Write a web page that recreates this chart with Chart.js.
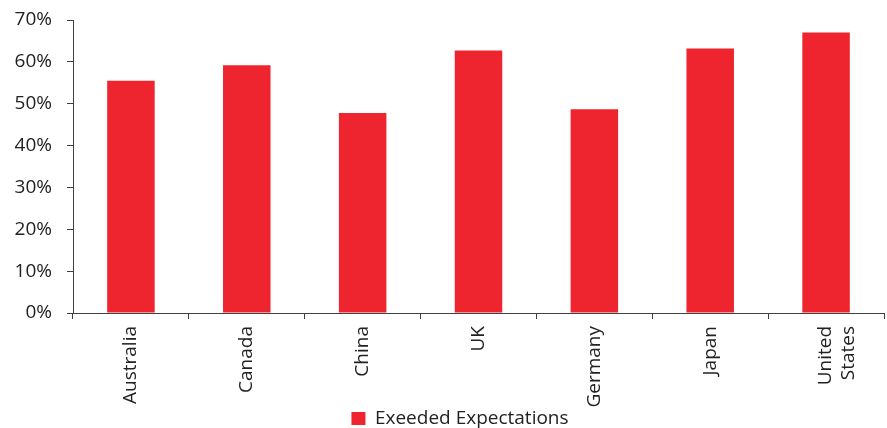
<!DOCTYPE html>
<html>
<head>
<meta charset="utf-8">
<script src="https://cdn.jsdelivr.net/npm/chart.js@4"></script>
<style>
  html, body { margin: 0; padding: 0; background: #fff; }
  #wrap { width: 887px; height: 428px; position: relative; }
</style>
</head>
<body>
<div id="wrap"><canvas id="c"></canvas></div>
<script>
const categories = ['Australia', 'Canada', 'China', 'UK', 'Germany', 'Japan', ['United', 'States']];
const exceededExpectations = [55.5, 59.2, 47.8, 62.7, 48.7, 63.2, 67.0];
const seriesName = 'Exeeded Expectations';
const yTickMax = 70;
const yTickStep = 10;

const FONT = "'Open Sans', sans-serif";
const TEXT = '#222222';
const AXIS = '#404040';

// shift the legend a little to the right, as in the reference
const legendShift = {
  id: 'legendShift',
  afterLayout(chart) {
    const lg = chart.legend;
    if (lg) { lg.left += 18; lg.right += 18; }
  }
};

function build() {
  new Chart(document.getElementById('c'), {
    type: 'bar',
    data: {
      labels: categories,
      datasets: [{
        label: seriesName,
        data: exceededExpectations,
        backgroundColor: '#ee242f',
        borderWidth: 0,
        barPercentage: 0.41,
        categoryPercentage: 1.0
      }]
    },
    plugins: [legendShift],
    options: {
      responsive: true,
      maintainAspectRatio: false,
      animation: false,
      layout: { padding: { top: 20, right: 3, left: 0, bottom: -10 } },
      plugins: {
        legend: {
          position: 'bottom',
          labels: {
            boxWidth: 14,
            boxHeight: 13,
            padding: 0,
            color: TEXT,
            font: { family: FONT, size: 19 }
          }
        },
        tooltip: { enabled: false }
      },
      scales: {
        x: {
          afterFit: s => { s.height = 96; },
          grid: { display: true, drawOnChartArea: false, drawTicks: true, tickLength: 6, color: AXIS, offset: true },
          border: { display: true, color: AXIS, width: 1 },
          ticks: { color: TEXT, font: { family: FONT, size: 19 }, minRotation: 90, maxRotation: 90, padding: 7, autoSkip: false }
        },
        y: {
          min: 0, max: yTickMax,
          afterFit: s => { s.width = 73; s.paddingTop = 0; s.paddingBottom = 0; },
          grid: { display: true, drawOnChartArea: false, drawTicks: true, tickLength: 6, color: AXIS },
          border: { display: true, color: AXIS, width: 1 },
          ticks: { stepSize: yTickStep, color: TEXT, font: { family: FONT, size: 19 }, padding: 15, callback: v => v + '%' }
        }
      }
    }
  });
}
if (document.fonts && document.fonts.load) {
  document.fonts.load("19px 'Open Sans'").then(build, build);
} else { build(); }
</script>
</body>
</html>
